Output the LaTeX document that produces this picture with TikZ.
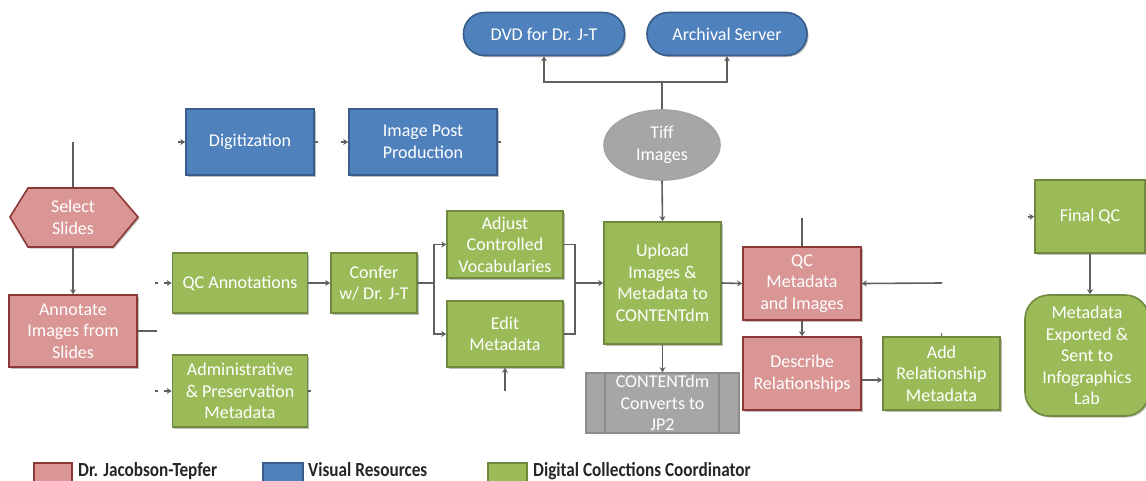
\documentclass[tikz,border=0pt]{standalone}
\usepackage{fontspec}
\setmainfont{Carlito}
\usetikzlibrary{shapes.geometric,arrows.meta,shadows}
\definecolor{pinkfill}{HTML}{D99694}
\definecolor{pinkdraw}{HTML}{8C3836}
\definecolor{bluefill}{HTML}{4F81BD}
\definecolor{bluedraw}{HTML}{385D8A}
\definecolor{greenfill}{HTML}{9BBB59}
\definecolor{greendraw}{HTML}{71893F}
\definecolor{grayfill}{HTML}{A6A6A6}
\definecolor{graydraw}{HTML}{8C8C8C}
\definecolor{linecol}{HTML}{5F5F5F}
\tikzset{
  base/.style={inner sep=0pt, align=center, text=white, line width=1.6pt,
    font=\fontsize{18}{21.5}\selectfont},
  shade/.style={drop shadow={shadow xshift=1.5pt, shadow yshift=-1.5pt, opacity=0.25, fill=black}},
  pinkbox/.style={base, shade, rectangle, fill=pinkfill, draw=pinkdraw},
  bluebox/.style={base, shade, rectangle, fill=bluefill, draw=bluedraw},
  greenbox/.style={base, shade, rectangle, fill=greenfill, draw=greendraw},
  graybox/.style={base, rectangle, fill=grayfill, draw=graydraw},
  conn/.style={draw=linecol, line width=1.6pt},
  arr/.style={conn, -{Stealth[length=5pt,width=6pt]}},
  legtext/.style={anchor=base west, inner sep=0pt, text=black!85,
    font=\bfseries\fontsize{20}{22}\selectfont},
}
\begin{document}
\begin{tikzpicture}[x=1pt,y=-1pt]
\useasboundingbox (0,0) rectangle (1146,480);
\clip (0,0) rectangle (1146,480);

% ---- Select Slides hexagon ----
\path[fill=pinkfill, draw=pinkdraw, line width=1.6pt, shade]
  (10,217) -- (28,188) -- (113,188) -- (138,217) -- (113,247) -- (28,247) -- cycle;
\node[base, minimum width=128, minimum height=59] (sel) at (73,217.5) {Select\\Slides};

% ---- boxes ----
\node[pinkbox, minimum width=128, minimum height=72] (ann) at (73,331) {Annotate\\Images from\\Slides};
\node[bluebox, minimum width=128, minimum height=66] (dig) at (250,142) {Digitization};
\node[bluebox, minimum width=148, minimum height=66] (ipp) at (423,142) {Image Post\\Production};
\node[bluebox, rounded corners=21, minimum width=161, minimum height=43] (dvd) at (544,34) {DVD for Dr. J-T};
\node[bluebox, rounded corners=21, minimum width=160, minimum height=43] (arc) at (727,34) {Archival Server};
\node[base, ellipse, fill=grayfill, draw=graydraw!80, minimum width=116, minimum height=70] (tiff) at (662,145) {Tiff\\Images};
\node[greenbox, minimum width=135, minimum height=60] (qca) at (240,283) {QC Annotations};
\node[greenbox, minimum width=135, minimum height=72] (adm) at (240,391) {Administrative\\\& Preservation\\Metadata};
\node[greenbox, minimum width=86, minimum height=60] (conf) at (374,283) {Confer\\w/ Dr. J-T};
\node[greenbox, minimum width=116, minimum height=67] (adj) at (505,244.5) {Adjust\\Controlled\\Vocabularies};
\node[greenbox, minimum width=116, minimum height=66] (edit) at (505,334) {Edit\\Metadata};
\node[greenbox, minimum width=117, minimum height=122] (upl) at (662.5,283) {Upload\\Images \&\\Metadata to\\CONTENTdm};
\node[graybox, minimum width=153, minimum height=60] (cdm) at (662.5,403) {CONTENTdm\\Converts to\\JP2};
\draw[draw=graydraw, line width=1.2pt] (605,373) -- (605,433) (719,373) -- (719,433);
\node[pinkbox, minimum width=118, minimum height=73] (qcm) at (802,283.5) {QC\\Metadata\\and Images};
\node[pinkbox, minimum width=118, minimum height=73] (desc) at (802,373.5) {Describe\\Relationships};
\node[greenbox, minimum width=117, minimum height=73] (addr) at (941.5,373.5) {Add\\Relationship\\Metadata};
\node[greenbox, minimum width=110, minimum height=73] (fqc) at (1090,216.5) {Final QC};
\node[greenbox, rounded corners=24, minimum width=124, minimum height=121] (mexp) at (1087,355.5) {Metadata\\Exported \&\\Sent to\\Infographics\\Lab};

% ---- free ends ----
\coordinate (s0) at (73,142);
\coordinate (a1) at (157,331);
\coordinate (q0) at (164,283);
\coordinate (q0d) at (155,283);
\coordinate (ad0) at (164,391);
\coordinate (ad0d) at (155,391);
\coordinate (d0) at (178,142);
\coordinate (d1) at (318,142);
\coordinate (i0) at (341,142);
\coordinate (i1) at (501,142);
\coordinate (adm1) at (311,391);
\coordinate (top) at (662,82);
\coordinate (eb) at (505,391);
\coordinate (qt) at (802,218);
\coordinate (qr) at (942,283);
\coordinate (ar) at (941.5,333);
\coordinate (f0) at (1028,217);
\coordinate (br) at (434,283);
\coordinate (mg) at (575,283);

% ---- connectors ----
\draw[conn] (s0) -- (sel.north);
\draw[arr] (sel.south) -- (ann.north);
\draw[conn] (ann.east) -- (a1);
\draw[conn] (q0d) -- ++(3,0);
\draw[arr] (q0) -- (qca.west);
\draw[conn] (ad0d) -- ++(3,0);
\draw[arr] (ad0) -- (adm.west);
\draw[arr] (d0) -- (dig.west);
\draw[conn] (dig.east) -- (d1);
\draw[arr] (i0) -- (ipp.west);
\draw[conn] (ipp.east) -- (i1);
\draw[conn] (adm.east) -- (adm1);
\draw[conn] (tiff.north) -- (top);
\draw[arr] (top) -| (dvd.south);
\draw[arr] (top) -| (arc.south);
\draw[arr] (tiff.south) -- (upl.north);
\draw[arr] (qca.east) -- (conf.west);
\draw[conn] (conf.east) -- (br);
\draw[arr] (br) |- (adj.west);
\draw[arr] (br) |- (edit.west);
\draw[conn] (adj.east) -| (mg);
\draw[conn] (edit.east) -| (mg);
\draw[arr] (mg) -- (upl.west);
\draw[arr] (eb) -- (edit.south);
\draw[arr] (upl.east) -- (qcm.west);
\draw[conn] (qt) -- (qcm.north);
\draw[arr] (qr) -- (qcm.east);
\draw[arr] (qcm.south) -- (desc.north);
\draw[arr] (desc.east |- 0,380) -- (addr.west |- 0,380);
\draw[conn] (ar) -- (addr.north);
\draw[arr] (upl.south) -- (cdm.north);
\draw[arr] (f0) -- (fqc.west);
\draw[arr] (fqc.south) -- (fqc.south |- mexp.north);

% ---- legend ----
\node[rectangle, fill=pinkfill, draw=pinkdraw, line width=1.6pt, minimum width=38, minimum height=24, inner sep=0] (lp) at (53,475) {};
\node[legtext] (lpt) at (78,476) {\scalebox{0.86}[1]{Dr. Jacobson-Tepfer}};
\node[rectangle, fill=bluefill, draw=bluedraw, line width=1.6pt, minimum width=40, minimum height=24, inner sep=0] (lb) at (283,475) {};
\node[legtext] (lbt) at (308,476) {\scalebox{0.86}[1]{Visual Resources}};
\node[rectangle, fill=greenfill, draw=greendraw, line width=1.6pt, minimum width=39, minimum height=24, inner sep=0] (lg) at (507.5,475) {};
\node[legtext] (lgt) at (533,476) {\scalebox{0.86}[1]{Digital Collections Coordinator}};
\end{tikzpicture}
\end{document}
